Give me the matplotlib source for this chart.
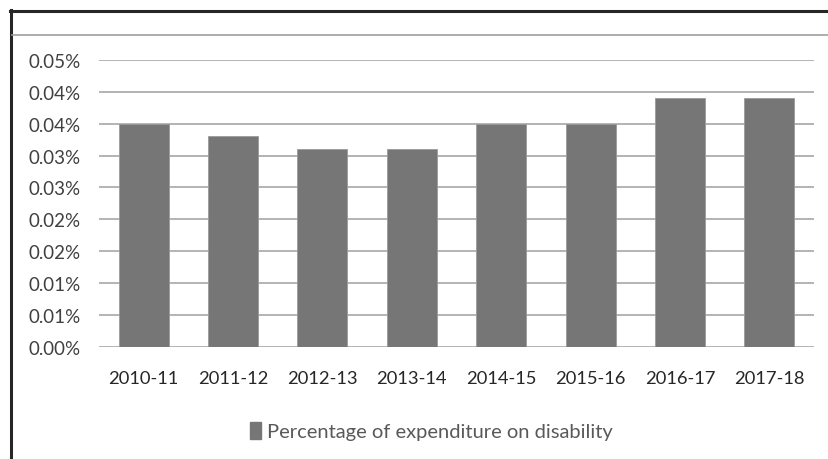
import matplotlib
matplotlib.use("Agg")
import matplotlib.pyplot as plt
from matplotlib.lines import Line2D
from matplotlib.patches import Patch
from decimal import Decimal, ROUND_HALF_UP
import numpy as np

categories = ["2010-11", "2011-12", "2012-13", "2013-14", "2014-15", "2015-16", "2016-17", "2017-18"]
values = [0.035, 0.033, 0.031, 0.031, 0.035, 0.035, 0.039, 0.039]
yticks = [0.0, 0.005, 0.01, 0.015, 0.02, 0.025, 0.03, 0.035, 0.04, 0.045]
series_name = "Percentage of expenditure on disability"

plt.rcParams['font.family'] = ['Lato', 'DejaVu Sans']

def fmt(v):
    d = Decimal(str(v)).quantize(Decimal("0.01"), rounding=ROUND_HALF_UP)
    return f"{d}%"

W, H = 829, 460
fig = plt.figure(figsize=(W/100, H/100), dpi=100)
ax = fig.add_axes([99/W, (H-347.7)/H, (814-99)/W, (347.7-61)/H])

x = np.arange(len(categories))
ax.bar(x, values, width=0.56, color="#767676", edgecolor="#9a9a9a", linewidth=0.6, zorder=3)
ax.set_xlim(-0.5, len(categories)-0.5)
ax.set_ylim(0, 0.045)
ax.set_yticks(yticks)
ax.set_yticklabels([fmt(v) for v in yticks], fontsize=13.5, color="#404040")
ax.set_xticks(x)
ax.set_xticklabels(categories, fontsize=13.2, color="#262626")
ax.tick_params(axis='both', length=0)
ax.tick_params(axis='y', pad=13)
ax.tick_params(axis='x', pad=17)
ax.grid(axis='y', color="#b3b3b3", linewidth=1.4, zorder=0)
for s in ax.spines.values():
    s.set_visible(False)

# chart frame lines
fig.add_artist(Line2D([11/W, 11/W], [0, (H-11)/H], color="#262626", linewidth=2.2))
fig.add_artist(Line2D([10/W, 1], [(H-12)/H, (H-12)/H], color="#262626", linewidth=2.2))
fig.add_artist(Line2D([12/W, 1], [(H-36)/H, (H-36)/H], color="#a0a0a0", linewidth=1.2))

handles = [Patch(facecolor="#767676", edgecolor="#767676", label=series_name)]
fig.legend(handles=handles, loc='center', bbox_to_anchor=(431/W, (H-432)/H), frameon=False,
           labelcolor="#595959", handlelength=0.55, handleheight=0.9, handletextpad=0.3,
           prop={'family': ['Lato', 'DejaVu Sans'], 'size': 14.5})

fig.savefig("out.png", dpi=100)
